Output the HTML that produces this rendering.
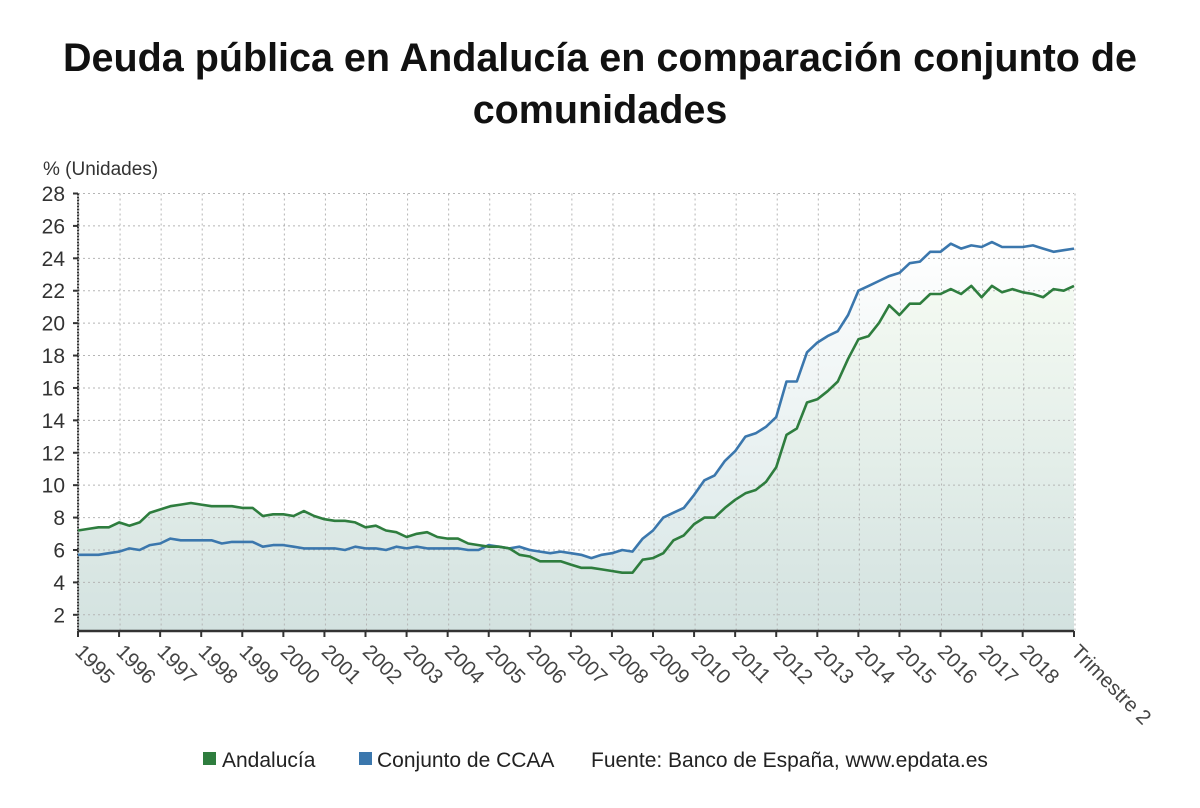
<!DOCTYPE html>
<html><head><meta charset="utf-8">
<style>
body{margin:0;width:1200px;height:808px;background:#fff;font-family:"Liberation Sans",sans-serif;overflow:hidden}
#title{position:absolute;left:0;top:32px;width:1200px;text-align:center;font-weight:bold;font-size:39.5px;line-height:52px;color:#111}
svg{position:absolute;left:0;top:0}
</style></head><body>
<div id="title">Deuda pública en Andalucía en comparación conjunto de<br>comunidades</div>
<svg id="chart" width="1200" height="808">
<defs>
<linearGradient id="gb" x1="0" y1="0" x2="0" y2="1"><stop offset="0" stop-color="#ffffff"/><stop offset="1" stop-color="#d6e5e5"/></linearGradient>
<linearGradient id="gg" x1="0" y1="0" x2="0" y2="1"><stop offset="0" stop-color="#f4faf2"/><stop offset="1" stop-color="#d3e2e0"/></linearGradient>
</defs>
</svg>
<script>
const years=["1995","1996","1997","1998","1999","2000","2001","2002","2003","2004","2005","2006","2007","2008","2009","2010","2011","2012","2013","2014","2015","2016","2017","2018","Trimestre 2"];
const yTicks=[2,4,6,8,10,12,14,16,18,20,22,24,26,28];
const andalucia=[7.2,7.3,7.4,7.4,7.7,7.5,7.7,8.3,8.5,8.7,8.8,8.9,8.8,8.7,8.7,8.7,8.6,8.6,8.1,8.2,8.2,8.1,8.4,8.1,7.9,7.8,7.8,7.7,7.4,7.5,7.2,7.1,6.8,7.0,7.1,6.8,6.7,6.7,6.4,6.3,6.2,6.2,6.1,5.7,5.6,5.3,5.3,5.3,5.1,4.9,4.9,4.8,4.7,4.6,4.6,5.4,5.5,5.8,6.6,6.9,7.6,8.0,8.0,8.6,9.1,9.5,9.7,10.2,11.1,13.1,13.5,15.1,15.3,15.8,16.4,17.8,19.0,19.2,20.0,21.1,20.5,21.2,21.2,21.8,21.8,22.1,21.8,22.3,21.6,22.3,21.9,22.1,21.9,21.8,21.6,22.1,22.0,22.3];
const conjunto=[5.7,5.7,5.7,5.8,5.9,6.1,6.0,6.3,6.4,6.7,6.6,6.6,6.6,6.6,6.4,6.5,6.5,6.5,6.2,6.3,6.3,6.2,6.1,6.1,6.1,6.1,6.0,6.2,6.1,6.1,6.0,6.2,6.1,6.2,6.1,6.1,6.1,6.1,6.0,6.0,6.3,6.2,6.1,6.2,6.0,5.9,5.8,5.9,5.8,5.7,5.5,5.7,5.8,6.0,5.9,6.7,7.2,8.0,8.3,8.6,9.4,10.3,10.6,11.5,12.1,13.0,13.2,13.6,14.2,16.4,16.4,18.2,18.8,19.2,19.5,20.5,22.0,22.3,22.6,22.9,23.1,23.7,23.8,24.4,24.4,24.9,24.6,24.8,24.7,25.0,24.7,24.7,24.7,24.8,24.6,24.4,24.5,24.6];
const X0=78,X1=1074,YTOP=193.5,YBOT=631,VMIN=1,VMAX=28;
const n=andalucia.length;
const xs=i=>X0+(X1-X0)*i/(n-1);
const ys=v=>YBOT-(v-VMIN)/(VMAX-VMIN)*(YBOT-YTOP);
const svg=document.getElementById('chart');
const NS='http://www.w3.org/2000/svg';
function mk(t,a){const e=document.createElementNS(NS,t);for(const k in a)e.setAttribute(k,a[k]);svg.appendChild(e);return e;}
function area(arr,fill,name){let d='M'+xs(0)+','+YBOT;arr.forEach((v,i)=>d+=' L'+xs(i).toFixed(1)+','+ys(v).toFixed(1));d+=' L'+xs(arr.length-1)+','+YBOT+'Z';
const p=mk('path',{d:d,fill:fill});

}
area(conjunto,'url(#gb)','conjunto-area');
area(andalucia,'url(#gg)','andalucia-area');
yTicks.forEach(v=>{const l=mk('line',{x1:X0,x2:X1,y1:ys(v),y2:ys(v),stroke:'#b5b5b5','stroke-width':1,'stroke-dasharray':'2,3'});


const t=mk('text',{x:65,y:ys(v)+7.5,'text-anchor':'end','font-size':21,fill:'#333'});t.textContent=v;

});
years.forEach((y,k)=>{const idx=Math.min(k*4,n-1);const x=k===years.length-1?X1:xs(idx);
const g=mk('line',{x1:x+1,x2:x+1,y1:YTOP,y2:YBOT,stroke:'#b5b5b5','stroke-width':1,'stroke-dasharray':'2,3'});


mk('line',{x1:x,x2:x,y1:YBOT,y2:YBOT+6,stroke:'#333','stroke-width':2});
const t=mk('text',{x:x-4,y:YBOT+22,'font-size':20.5,fill:'#444',transform:'rotate(45 '+(x-4)+' '+(YBOT+22)+')'});t.textContent=y;

});
mk('line',{x1:X0,x2:X0,y1:YTOP,y2:YBOT,stroke:'#333','stroke-width':2,'stroke-dasharray':'2,1'});
yTicks.forEach(v=>mk('line',{x1:X0-5,x2:X0,y1:ys(v),y2:ys(v),stroke:'#333','stroke-width':2}));
mk('line',{x1:X0,x2:X1,y1:YBOT,y2:YBOT,stroke:'#333','stroke-width':2.5});
function line(arr,col,name){const p=mk('polyline',{points:arr.map((v,i)=>xs(i).toFixed(1)+','+ys(v).toFixed(1)).join(' '),fill:'none',stroke:col,'stroke-width':2.6,'stroke-linejoin':'round'});

}
line(conjunto,'#3b77ad','conjunto-line');
line(andalucia,'#2e7d3e','andalucia-line');
const yt=mk('text',{x:43,y:175,'font-size':19,fill:'#333'});yt.textContent='% (Unidades)';


const r1=mk('rect',{x:203,y:752,width:13,height:13,fill:'#2e7d3e'});


const l1=mk('text',{x:222,y:767,'font-size':21,fill:'#222'});l1.textContent='Andalucía';


const r2=mk('rect',{x:359,y:752,width:13,height:13,fill:'#3b77ad'});


const l2=mk('text',{x:377,y:767,'font-size':21,fill:'#222'});l2.textContent='Conjunto de CCAA';


const src=mk('text',{x:591,y:767,'font-size':21,fill:'#222'});src.textContent='Fuente: Banco de España, www.epdata.es';


</script>
</body></html>
